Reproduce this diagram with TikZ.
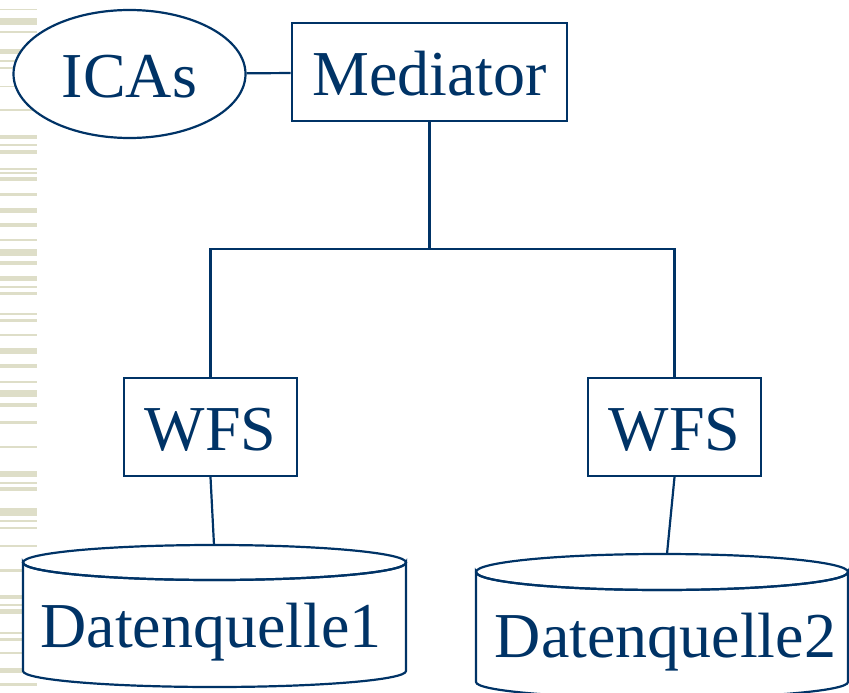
\documentclass[tikz,border=0pt]{standalone}
\usepackage{fontspec}
\setmainfont{Liberation Serif}
\usetikzlibrary{shapes.geometric}
\definecolor{ink}{RGB}{0,51,102}
\definecolor{stripe}{RGB}{222,222,200}
\begin{document}
\begin{tikzpicture}[x=1pt,y=-1pt,
  every node/.style={text=ink,font=\fontsize{64}{64}\selectfont,inner sep=0pt,
    text height=47pt,text depth=0pt},
  box/.style={draw=ink,line width=2.2pt,fill=white,rectangle},
  oval/.style={draw=ink,line width=2.2pt,fill=white,ellipse},
  link/.style={draw=ink,line width=2.2pt},
  drum/.style={draw=ink,line width=2.2pt,fill=white}]
\useasboundingbox (0,0) rectangle (849,693);

% decorative stripes along the left margin
\foreach \a/\b in {9/10.5,18/25,31/33,49/54,60/62,67/69,86/87.5,109/111,
  135/139,144/146,150/154,168/170,172/173.5,177/181,193/196,208/213,223/227,
  239/241,249/256,261/265,276/281,286/287.5,292/295,313/314.5,319/322,334/336,
  348/354,364/368,381/383,390/397,403/407,421/424,446/448,471/477,482/483.5,
  487/491,508/516,520/522,527/529,545/547,569/572,595/599,604/606,609/614,
  632/633.5,638/641,652/654,668/673,683/686}
  \fill[stripe] (0,\a) rectangle (37,\b);

% nodes
\node[oval,minimum width=232pt,minimum height=128pt] (icas) at (129.5,74) {ICAs};
\node[box,minimum width=275.6pt,minimum height=97.7pt] (med) at (429.5,72.2) {Mediator};
\node[box,minimum width=173pt,minimum height=98pt] (wfsA) at (210.5,427) {WFS};
\node[box,minimum width=173pt,minimum height=98pt] (wfsB) at (674.5,427) {WFS};

% data sources drawn as cylinders
\path[drum] (23,562.5) -- (23,671) arc[start angle=180,end angle=0,x radius=191.5,y radius=16]
  -- (406,562.5) arc[start angle=0,end angle=180,x radius=191.5,y radius=17.5] -- cycle;
\draw[drum,fill=none] (214.5,562.5) ellipse[x radius=191.5,y radius=17.5];
\coordinate (dbAtop) at (214,545);
\node[anchor=base] (dbA) at (211,647) {Datenquelle1};

\path[drum] (476,572) -- (476,682) arc[start angle=180,end angle=0,x radius=186,y radius=16]
  -- (848,572) arc[start angle=0,end angle=180,x radius=186,y radius=18] -- cycle;
\draw[drum,fill=none] (662,572) ellipse[x radius=186,y radius=18];
\coordinate (dbBtop) at (667,554);
\node[anchor=base] (dbB) at (665.5,657) {Datenquelle2};

% connectors
\draw[link] (icas) -- (med);
\coordinate (j) at (429.5,249);
\draw[link] (med.south) -- (j);
\draw[link] (wfsA.north) |- (j) -| (wfsB.north);
\draw[link] (wfsA.south) -- (dbAtop);
\draw[link] (wfsB.south) -- (dbBtop);
\end{tikzpicture}
\end{document}
